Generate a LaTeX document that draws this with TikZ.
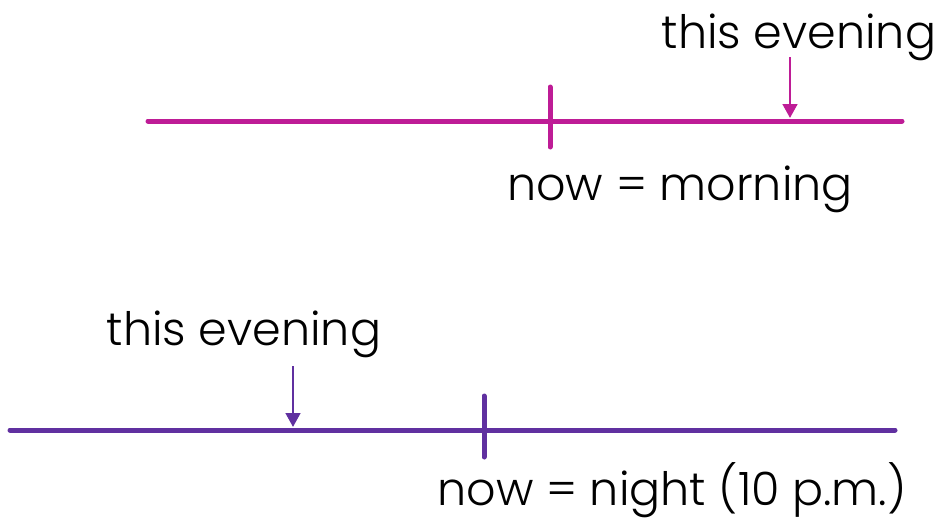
\documentclass[tikz,border=0pt]{standalone}
\usepackage{fontspec}
\setmainfont{Poppins}[UprightFont=* Light]
\usetikzlibrary{arrows.meta}
\definecolor{morningline}{RGB}{190,28,150}
\definecolor{nightline}{RGB}{96,48,160}
\tikzset{every picture/.style={line width=0.75pt}}
\tikzset{
  timeline/.style={line width=3.75pt, line cap=round},
  nowtick/.style={line width=3.75pt, line cap=round},
  pointer/.style={line width=2pt, -{Triangle[length=10.5pt,width=11pt]}},
  lbl/.style={anchor=base, inner sep=0.75pt, font=\fontsize{34.5}{40}\selectfont}
}

\begin{document}
\begin{tikzpicture}[x=0.75pt,y=0.75pt,yscale=-1,xscale=1]
\useasboundingbox (0,0) rectangle (943,521);

% upper time line: now = morning
\coordinate (mstart) at (148,121);
\coordinate (mend) at (902,121);
\coordinate (mtop) at (550,87);
\coordinate (mbot) at (550,147);
\coordinate (mfrom) at (790,57);
\coordinate (mto) at (790,118);
\draw [timeline, morningline] (mstart) -- (mend);
\draw [nowtick, morningline] (mtop) -- (mbot);
\draw [pointer, morningline] (mfrom) -- (mto);
% Text Node
\node [lbl] (meve) at (799,48) {this evening};
% Text Node
\node [lbl] (mnow) at (680,200) {now = morning};

% lower time line: now = night
\coordinate (nstart) at (10,430);
\coordinate (nend) at (895,430);
\coordinate (ntop) at (484,396);
\coordinate (nbot) at (484,457);
\coordinate (nfrom) at (293,366);
\coordinate (nto) at (293,427);
\draw [timeline, nightline] (nstart) -- (nend);
\draw [nowtick, nightline] (ntop) -- (nbot);
\draw [pointer, nightline] (nfrom) -- (nto);
% Text Node
\node [lbl] (neve) at (244,345) {this evening};
% Text Node
\node [lbl] (nnow) at (672,505) {now = night (10 p.m.)};

\end{tikzpicture}
\end{document}
